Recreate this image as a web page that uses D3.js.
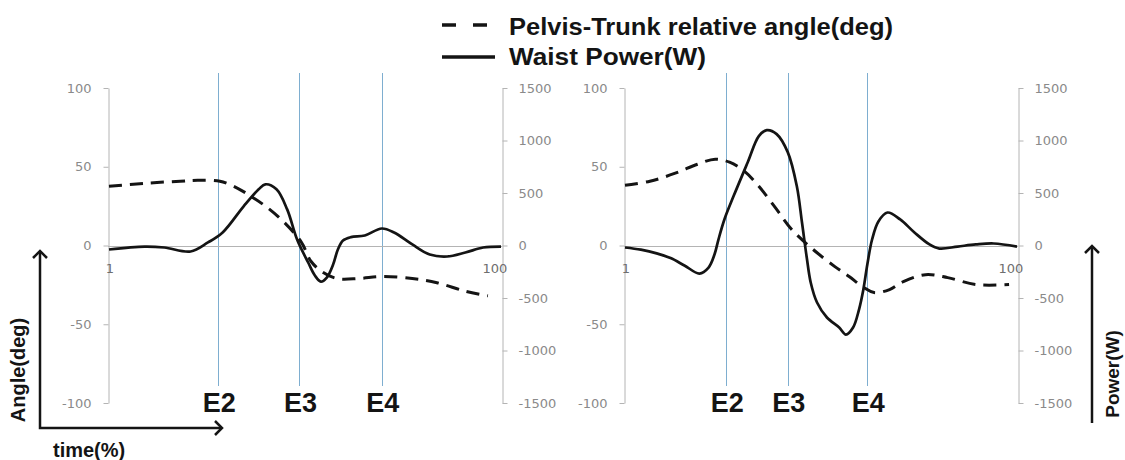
<!DOCTYPE html>
<html>
<head>
<meta charset="utf-8">
<script src="https://cdn.jsdelivr.net/npm/d3@7"></script>
<style>
  body { margin: 0; background: #fff; }
  svg { display: block; }
</style>
</head>
<body>
<div id="chart"></div>
<script>
// tick labels
const timeTicks = [1, 100];
const angleTicks = [-100, -50, 0, 50, 100];
const powerTicks = [-1500, -1000, -500, 0, 500, 1000, 1500];

// event markers (time %)
const eventNames = ['E2', 'E3', 'E4'];
const leftEvents = [28.6, 49.1, 69.9];
const rightEvents = [26.6, 42.1, 62.2];

// left panel - waist power (W)
const leftPowerTime = [1, 10, 15, 21.6, 26, 29.7, 35, 38.8, 40.5, 43.3, 46, 48.5, 51.3, 53, 54.5, 56, 57.6, 58.8, 60.1, 62.1, 65.6, 69.9, 73, 77.6, 82, 86.4, 91, 95.5, 100];
const leftPower = [-38, -10, -19, -57, 29, 124, 373, 535, 583, 535, 344, 57, -162, -286, -344, -305, -181, -38, 48, 80, 95, 162, 124, 10, -86, -105, -67, -19, -10];

// left panel - pelvis-trunk relative angle (deg)
const leftAngleTime = [1, 10, 19, 23.4, 29, 33.5, 37, 40.5, 45, 49.6, 52, 55, 58.6, 64, 70, 77.6, 83.8, 91, 96.7];
const leftAngle = [37.6, 39.5, 40.8, 41.4, 40.8, 36.3, 31, 25, 15.3, 2, -10, -17, -21, -21, -19.7, -21, -23.6, -29, -32];

// right panel - waist power (W)
const rightPowerTime = [1, 5, 9, 12.5, 16, 19.8, 22.1, 23.6, 24.6, 26.1, 28.4, 32, 34.8, 36.8, 39.3, 42.1, 44.4, 45.7, 46.9, 47.9, 49.5, 52, 55.1, 56.8, 58.6, 60.1, 61.2, 62.2, 63.4, 65, 67.3, 70.5, 74.1, 77.9, 80.4, 85, 89.6, 94.1, 100];
const rightPower = [-19, -40, -75, -120, -190, -267, -210, -86, 57, 248, 468, 793, 1041, 1099, 1061, 889, 564, 219, -114, -352, -543, -686, -781, -848, -781, -610, -419, -181, 57, 229, 314, 248, 124, 10, -29, -10, 10, 19, -10];

// right panel - pelvis-trunk relative angle (deg)
const rightAngleTime = [1, 7.3, 13.7, 19.3, 23.8, 27.4, 31.2, 34.8, 39.3, 43.1, 48.5, 54, 57.6, 61.4, 63.9, 67.8, 71.3, 76.9, 82.5, 89.6, 98];
const rightAngle = [38.2, 40.8, 45.9, 51.6, 54.8, 52.9, 47.1, 37.6, 22.9, 10.2, -2.5, -13.4, -19.7, -26.8, -29.9, -28, -22.9, -18.5, -20.4, -24.8, -24.8];

const width = 1125;
const height = 460;
const plotTop = 88;
const plotBottom = 403;
const eventTop = 73;
const eventBottom = 386;
const axisColor = '#b4b4b4';
const tickColor = '#8a8a8a';
const eventColor = '#7eaed0';
const ink = '#141414';
const dash = '13,8';

const panels = [
  { left: 108, right: 502, events: leftEvents,
    power: leftPowerTime.map((t, i) => [t, leftPower[i]]),
    angle: leftAngleTime.map((t, i) => [t, leftAngle[i]]) },
  { left: 624, right: 1018, events: rightEvents,
    power: rightPowerTime.map((t, i) => [t, rightPower[i]]),
    angle: rightAngleTime.map((t, i) => [t, rightAngle[i]]) }
];

const svg = d3.select('#chart').append('svg')
  .attr('width', width)
  .attr('height', height)
  .style('font-family', '"Liberation Sans", Arial, sans-serif');

const yAngle = d3.scaleLinear().domain([-100, 100]).range([plotBottom, plotTop]);
const yPower = d3.scaleLinear().domain([-1500, 1500]).range([plotBottom, plotTop]);

// plain hyphen minus, no thousands separator
const plain = d => String(d);

const styleAxis = g => {
  g.select('.domain').attr('stroke', axisColor);
  g.selectAll('.tick line').attr('stroke', axisColor);
  g.selectAll('.tick text')
    .attr('fill', tickColor)
    .style('font-family', '"DejaVu Sans", sans-serif')
    .style('font-size', '13px');
};

panels.forEach(p => {
  const x = d3.scaleLinear().domain([1, 100]).range([p.left + 1, p.right - 1]);
  const g = svg.append('g');

  // event lines
  g.append('g')
    .selectAll('line')
    .data(p.events)
    .join('line')
      .attr('x1', d => Math.round(x(d)) + 0.5)
      .attr('x2', d => Math.round(x(d)) + 0.5)
      .attr('y1', eventTop)
      .attr('y2', eventBottom)
      .attr('stroke', eventColor)
      .attr('stroke-width', 1);

  g.append('g')
    .selectAll('text')
    .data(p.events)
    .join('text')
      .attr('x', d => x(d) + 1)
      .attr('y', 412)
      .attr('text-anchor', 'middle')
      .attr('fill', ink)
      .style('font-size', '27px')
      .style('font-weight', 'bold')
      .text((d, i) => eventNames[i]);

  // zero line
  g.append('line')
    .attr('x1', p.left)
    .attr('x2', p.right)
    .attr('y1', Math.round(yAngle(0)) + 0.5)
    .attr('y2', Math.round(yAngle(0)) + 0.5)
    .attr('stroke', axisColor);

  g.append('g')
    .attr('transform', `translate(${p.left + 0.5},0)`)
    .call(d3.axisLeft(yAngle).tickValues(angleTicks).tickFormat(plain).tickSize(5).tickPadding(12).tickSizeOuter(0))
    .call(styleAxis);

  g.append('g')
    .attr('transform', `translate(${p.right + 0.5},0)`)
    .call(d3.axisRight(yPower).tickValues(powerTicks).tickFormat(plain).tickSize(5).tickPadding(11).tickSizeOuter(0))
    .call(styleAxis);

  // time labels below the zero line
  g.append('g')
    .selectAll('text')
    .data(timeTicks)
    .join('text')
      .attr('x', d => x(d) + (d === 100 ? -6 : 1))
      .attr('y', yAngle(0) + 27)
      .attr('text-anchor', 'middle')
      .attr('fill', '#6e6e6e')
      .style('font-family', '"DejaVu Sans", sans-serif')
      .style('font-size', '13px')
      .text(d => d);

  const line = d3.line().curve(d3.curveCatmullRom.alpha(0.5)).x(d => x(d[0]));

  g.append('path')
    .attr('d', line.y(d => yAngle(d[1]))(p.angle))
    .attr('fill', 'none')
    .attr('stroke', ink)
    .attr('stroke-width', 3)
    .attr('stroke-dasharray', dash);

  g.append('path')
    .attr('d', line.y(d => yPower(d[1]))(p.power))
    .attr('fill', 'none')
    .attr('stroke', ink)
    .attr('stroke-width', 2.7)
    .attr('stroke-linejoin', 'round');
});

// legend
const legend = svg.append('g');
legend.append('line')
  .attr('x1', 442).attr('x2', 491).attr('y1', 25).attr('y2', 25)
  .attr('stroke', ink).attr('stroke-width', 3.5).attr('stroke-dasharray', '14,17');
legend.append('line')
  .attr('x1', 442).attr('x2', 495).attr('y1', 57).attr('y2', 57)
  .attr('stroke', ink).attr('stroke-width', 3.5);
legend.append('text')
  .attr('x', 509).attr('y', 35)
  .attr('fill', ink)
  .attr('textLength', 384).attr('lengthAdjust', 'spacingAndGlyphs')
  .style('font-size', '23px').style('font-weight', 'bold')
  .text('Pelvis-Trunk relative angle(deg)');
legend.append('text')
  .attr('x', 509).attr('y', 65)
  .attr('fill', ink)
  .attr('textLength', 197).attr('lengthAdjust', 'spacingAndGlyphs')
  .style('font-size', '23px').style('font-weight', 'bold')
  .text('Waist Power(W)');

// arrows
const arrowHead = (g, tipX, tipY, dir) => {
  const s = 7;
  const pts = dir === 'up'
    ? [[tipX - s, tipY + s], [tipX, tipY], [tipX + s, tipY + s]]
    : [[tipX - s, tipY - s], [tipX, tipY], [tipX - s, tipY + s]];
  g.append('path')
    .attr('d', d3.line()(pts))
    .attr('fill', 'none')
    .attr('stroke', ink)
    .attr('stroke-width', 2.5);
};

const arrows = svg.append('g');
arrows.append('path')
  .attr('d', d3.line()([[40, 251], [40, 428], [222, 428]]))
  .attr('fill', 'none').attr('stroke', ink).attr('stroke-width', 2.5);
arrowHead(arrows, 40, 251, 'up');
arrowHead(arrows, 222, 428, 'right');

arrows.append('line')
  .attr('x1', 1092).attr('x2', 1092).attr('y1', 246).attr('y2', 423)
  .attr('stroke', ink).attr('stroke-width', 2.5);
arrowHead(arrows, 1092, 246, 'up');

svg.append('text')
  .attr('transform', 'translate(25,370) rotate(-90)')
  .attr('text-anchor', 'middle')
  .attr('fill', ink)
  .style('font-size', '20px').style('font-weight', 'bold')
  .text('Angle(deg)');

svg.append('text')
  .attr('x', 53).attr('y', 457)
  .attr('fill', ink)
  .style('font-size', '20px').style('font-weight', 'bold')
  .text('time(%)');

svg.append('text')
  .attr('transform', 'translate(1119,374) rotate(-90)')
  .attr('text-anchor', 'middle')
  .attr('fill', ink)
  .style('font-size', '19px').style('font-weight', 'bold')
  .text('Power(W)');
</script>
</body>
</html>
